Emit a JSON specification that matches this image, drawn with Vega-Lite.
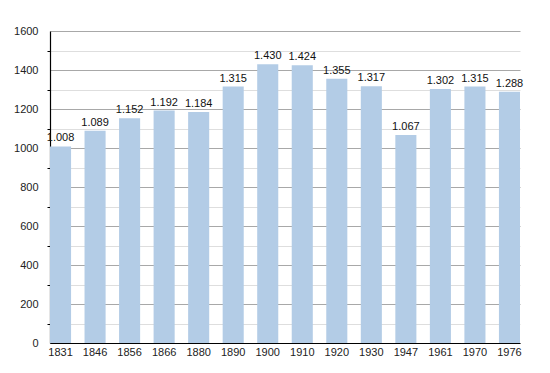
{
  "$schema": "https://vega.github.io/schema/vega-lite/v6.json",
  "width": 470,
  "height": 312,
  "autosize": {"type": "none"},
  "padding": {"left": 50, "top": 31, "right": 30, "bottom": 30},
  "background": "white",
  "config": {
    "view": {"stroke": null},
    "font": "Liberation Sans",
    "locale": {"number": {"decimal": ",", "thousands": ".", "grouping": [3], "currency": ["", ""]}}
  },
  "data": {
    "values": [
      {"year": "1831", "pop": 1008},
      {"year": "1846", "pop": 1089},
      {"year": "1856", "pop": 1152},
      {"year": "1866", "pop": 1192},
      {"year": "1880", "pop": 1184},
      {"year": "1890", "pop": 1315},
      {"year": "1900", "pop": 1430},
      {"year": "1910", "pop": 1424},
      {"year": "1920", "pop": 1355},
      {"year": "1930", "pop": 1317},
      {"year": "1947", "pop": 1067},
      {"year": "1961", "pop": 1302},
      {"year": "1970", "pop": 1315},
      {"year": "1976", "pop": 1288}
    ]
  },
  "encoding": {
    "x": {
      "field": "year", "type": "ordinal", "sort": null,
      "scale": {"paddingInner": 0.39, "paddingOuter": 0},
      "axis": {
        "title": null, "labelAngle": 0, "ticks": false, "domainColor": "#000", "domainWidth": 1.2,
        "labelFontSize": 11, "labelColor": "#222", "labelPadding": 3, "grid": false
      }
    },
    "y": {
      "field": "pop", "type": "quantitative",
      "scale": {"domain": [0, 1600], "nice": false},
      "axis": {
        "title": null,
        "values": [0,100,200,300,400,500,600,700,800,900,1000,1100,1200,1300,1400,1500,1600],
        "labelExpr": "datum.value % 200 === 0 ? format(datum.value, 'd') : ''",
        "grid": true,
        "gridColor": {"condition": {"test": "datum.value % 200 === 0", "value": "#a8a8a8"}, "value": "#dedede"},
        "tickSize": {"condition": {"test": "datum.value % 200 === 0", "value": 0}, "value": 3},
        "tickColor": "#000",
        "domainColor": "#000", "domainWidth": 1.2,
        "labelFontSize": 11, "labelColor": "#222", "labelPadding": 12
      }
    }
  },
  "layer": [
    {"mark": {"type": "bar", "color": "#b3cce6"}, "encoding": {}},
    {
      "mark": {"type": "text", "baseline": "bottom", "dy": -3, "fontSize": 11, "color": "#111"},
      "encoding": {"text": {"field": "pop", "type": "quantitative", "format": ",d"}}
    }
  ]
}
